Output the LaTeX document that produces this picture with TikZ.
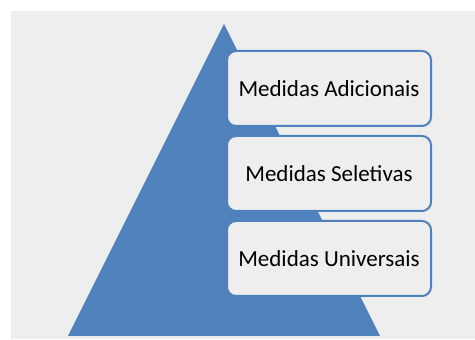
\documentclass[tikz,border=0pt]{standalone}
\usepackage{fontspec}
\setmainfont{Carlito}
\definecolor{pyrblue}{HTML}{4F81BD}
\definecolor{bggray}{HTML}{EEEEEE}
\tikzset{
  level/.style={draw=pyrblue, line width=2pt, fill=bggray, rounded corners=9pt,
    minimum width=204pt, minimum height=75pt, inner sep=0pt,
    font=\fontsize{23}{27}\selectfont}
}
\begin{document}
\begin{tikzpicture}[x=1pt,y=1pt]
	\useasboundingbox (0,0) rectangle (475,340);
	\fill[bggray] (11,1) rectangle (475,329); %background
	\fill[pyrblue] (68,4) -- (224,316) -- (380,4) -- cycle; %pyramid

	\node[level] at (329,251.5) (adicionais) {Medidas Adicionais};
	\node[level] at (329,166.5) (seletivas) {Medidas Seletivas};
	\node[level] at (329,81.5) (universais) {Medidas Universais};
\end{tikzpicture}
\end{document}
